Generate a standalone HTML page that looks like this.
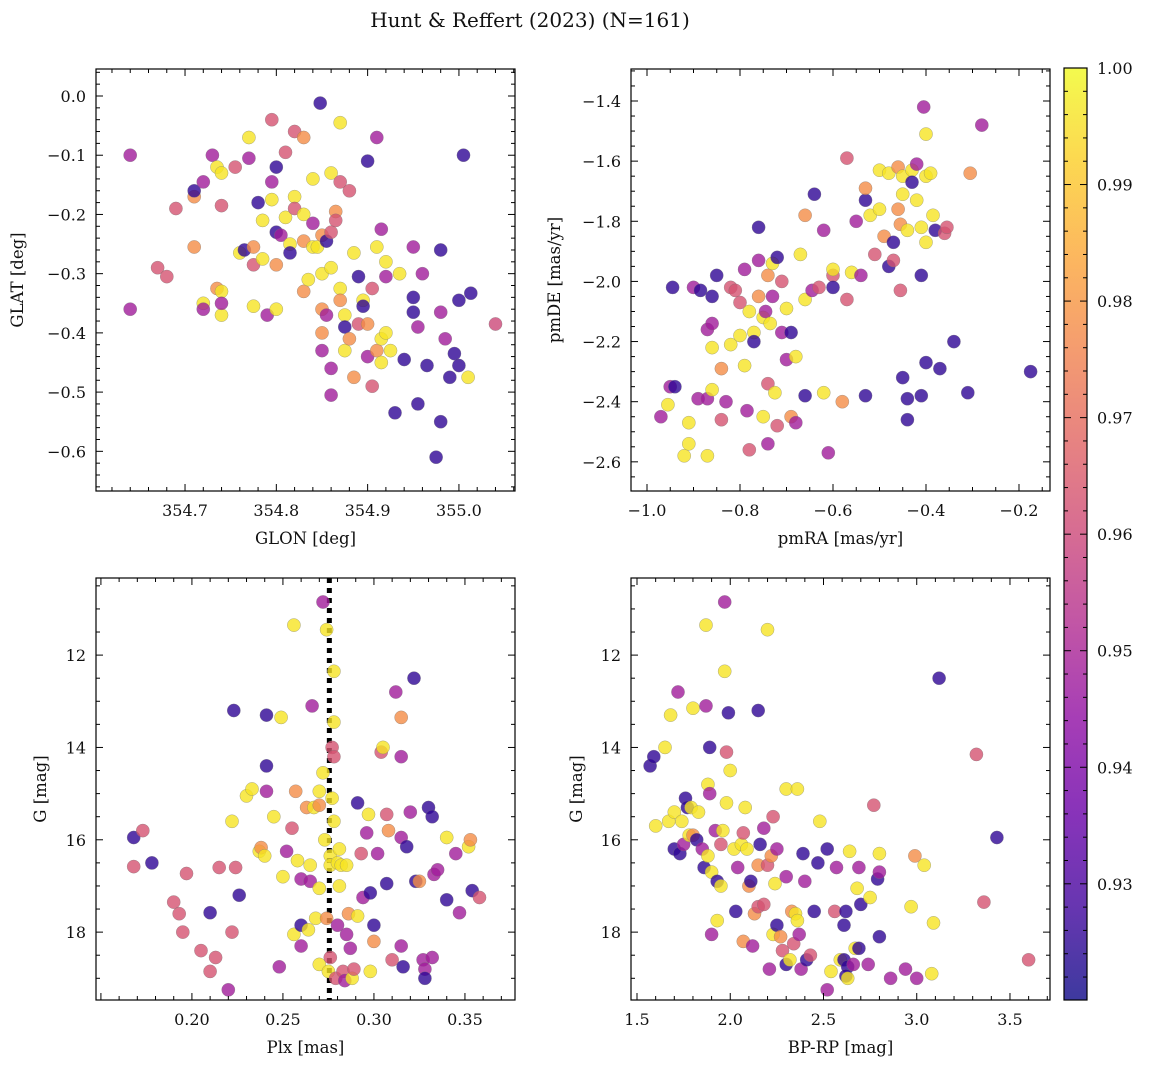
<!DOCTYPE html>
<html><head><meta charset="utf-8">
<style>
html,body{margin:0;padding:0;background:#fff;}
svg{display:block;font-family:"DejaVu Serif","Liberation Serif",serif;}
</style></head>
<body>
<svg id="fig" width="1149" height="1068" viewBox="0 0 1149 1068" xmlns="http://www.w3.org/2000/svg">
<text x="530" y="27" text-anchor="middle" font-size="20" fill="#111">Hunt &amp; Reffert (2023) (N=161)</text>
</svg>
<script>
// ---- Panel 1 data: GLON / GLAT / membership probability
const glon = [354.64,354.64,354.67,354.68,354.69,354.71,354.71,354.71,354.72,354.72,354.72,354.73,354.735,354.74,354.735,354.74,354.74,354.74,354.74,354.755,354.76,354.765,354.77,354.77,354.775,354.775,354.775,354.78,354.785,354.785,354.79,354.795,354.795,354.795,354.8,354.8,354.8,354.8,354.805,354.81,354.81,354.815,354.815,354.82,354.82,354.82,354.83,354.83,354.83,354.83,354.835,354.84,354.84,354.84,354.845,354.85,354.85,354.85,354.85,354.85,354.848,354.855,354.855,354.86,354.86,354.86,354.86,354.86,354.865,354.865,354.87,354.87,354.87,354.87,354.875,354.875,354.875,354.88,354.88,354.885,354.885,354.89,354.89,354.895,354.895,354.9,354.9,354.9,354.905,354.905,354.91,354.91,354.91,354.915,354.915,354.915,354.92,354.92,354.92,354.925,354.93,354.935,354.94,354.95,354.95,354.95,354.955,354.955,354.96,354.965,354.975,354.98,354.98,354.98,354.985,354.99,354.995,355.0,355.0,355.005,355.01,355.013,355.04];
const glat = [-0.10,-0.36,-0.29,-0.305,-0.19,-0.17,-0.255,-0.16,-0.145,-0.35,-0.36,-0.10,-0.12,-0.13,-0.325,-0.33,-0.37,-0.185,-0.35,-0.12,-0.265,-0.26,-0.07,-0.105,-0.255,-0.285,-0.355,-0.18,-0.21,-0.275,-0.37,-0.04,-0.145,-0.175,-0.12,-0.23,-0.285,-0.36,-0.235,-0.095,-0.205,-0.25,-0.265,-0.06,-0.17,-0.19,-0.07,-0.2,-0.245,-0.33,-0.31,-0.14,-0.215,-0.255,-0.255,-0.235,-0.3,-0.36,-0.4,-0.43,-0.012,-0.245,-0.37,-0.29,-0.46,-0.505,-0.23,-0.13,-0.195,-0.21,-0.325,-0.345,-0.145,-0.045,-0.37,-0.39,-0.43,-0.16,-0.41,-0.475,-0.265,-0.305,-0.385,-0.345,-0.355,-0.11,-0.385,-0.44,-0.325,-0.49,-0.07,-0.255,-0.43,-0.225,-0.41,-0.45,-0.4,-0.28,-0.305,-0.43,-0.535,-0.3,-0.445,-0.255,-0.34,-0.365,-0.39,-0.52,-0.3,-0.455,-0.61,-0.26,-0.365,-0.55,-0.41,-0.475,-0.435,-0.455,-0.345,-0.1,-0.475,-0.333,-0.385];
const prob1 = "MMKKKOOPMYMMYYOYYKMKYPYMOKYPYYMKMYPPOYMKYYPKYKOYOOYYMYYOYOOMPPMYMMKYOKYOKYYPYKOOYPKYPPOMKKMYOMYYYYMYPYPMPPMPMPPPMPMPPPPPYP";
// ---- Panel 2 data: pmRA / pmDE
const pmra = [-0.97,-0.955,-0.95,-0.945,-0.94,-0.92,-0.91,-0.91,-0.9,-0.89,-0.885,-0.87,-0.87,-0.87,-0.86,-0.86,-0.86,-0.86,-0.85,-0.84,-0.84,-0.83,-0.82,-0.82,-0.81,-0.8,-0.8,-0.79,-0.79,-0.785,-0.78,-0.78,-0.77,-0.77,-0.76,-0.76,-0.76,-0.75,-0.75,-0.745,-0.74,-0.74,-0.74,-0.735,-0.73,-0.73,-0.725,-0.72,-0.72,-0.71,-0.71,-0.7,-0.7,-0.69,-0.69,-0.68,-0.68,-0.67,-0.66,-0.66,-0.66,-0.645,-0.64,-0.63,-0.62,-0.62,-0.61,-0.6,-0.6,-0.6,-0.58,-0.57,-0.57,-0.56,-0.55,-0.54,-0.53,-0.53,-0.53,-0.52,-0.51,-0.5,-0.5,-0.49,-0.48,-0.48,-0.47,-0.47,-0.46,-0.46,-0.455,-0.455,-0.45,-0.45,-0.45,-0.44,-0.44,-0.44,-0.43,-0.43,-0.42,-0.42,-0.41,-0.41,-0.41,-0.405,-0.4,-0.4,-0.4,-0.4,-0.39,-0.385,-0.38,-0.37,-0.36,-0.355,-0.34,-0.31,-0.305,-0.28,-0.175];
const pmde = [-2.45,-2.41,-2.35,-2.02,-2.35,-2.58,-2.54,-2.47,-2.02,-2.39,-2.03,-2.16,-2.39,-2.58,-2.22,-2.14,-2.05,-2.36,-1.98,-2.29,-2.46,-2.40,-2.21,-2.02,-2.03,-2.07,-2.18,-1.96,-2.28,-2.43,-2.56,-2.1,-2.17,-2.2,-1.82,-1.93,-2.05,-2.45,-2.12,-2.1,-1.98,-2.34,-2.54,-2.14,-1.94,-2.05,-2.37,-2.48,-1.92,-2.0,-2.17,-2.26,-2.09,-2.45,-2.17,-2.47,-2.25,-1.91,-2.06,-1.78,-2.38,-2.03,-1.71,-2.02,-1.83,-2.37,-2.57,-1.98,-1.96,-2.02,-2.4,-2.06,-1.59,-1.97,-1.8,-1.98,-1.73,-1.69,-2.38,-1.78,-1.91,-1.63,-1.76,-1.85,-1.64,-1.95,-1.87,-1.93,-1.62,-1.76,-1.81,-2.03,-1.65,-1.71,-2.32,-1.83,-2.39,-2.46,-1.63,-1.67,-1.61,-1.73,-1.82,-1.98,-2.38,-1.42,-1.87,-1.65,-1.51,-2.27,-1.64,-1.78,-1.83,-2.29,-1.84,-1.82,-2.2,-2.37,-1.64,-1.48,-2.3];
const prob2 = "MYMPPYYYMMPMMYYMPYPOKMYKKKYMYMKYYPPMOYYMOKMYYMYKPKMMYOPMYYYOPMPKMYMKYPOKKYMMPOPYKYYOYPPKOOOKYYPYPPYPMYYPPMYYYPYYPPKKPPOMP";
// ---- Panel 3 data: parallax / G
const plx = [0.168,0.168,0.173,0.178,0.19,0.193,0.195,0.197,0.205,0.21,0.21,0.213,0.215,0.22,0.222,0.222,0.223,0.224,0.226,0.23,0.233,0.237,0.238,0.24,0.241,0.241,0.241,0.245,0.248,0.249,0.25,0.252,0.255,0.256,0.256,0.257,0.258,0.26,0.26,0.26,0.263,0.264,0.265,0.265,0.266,0.267,0.268,0.27,0.27,0.27,0.27,0.272,0.272,0.273,0.274,0.274,0.275,0.276,0.276,0.276,0.277,0.277,0.278,0.278,0.278,0.278,0.279,0.28,0.28,0.281,0.281,0.282,0.283,0.284,0.285,0.285,0.286,0.287,0.288,0.289,0.291,0.291,0.293,0.294,0.296,0.297,0.298,0.298,0.3,0.3,0.302,0.304,0.305,0.307,0.307,0.308,0.31,0.312,0.315,0.315,0.315,0.315,0.316,0.318,0.32,0.322,0.323,0.325,0.327,0.328,0.328,0.33,0.332,0.332,0.333,0.335,0.34,0.34,0.345,0.347,0.352,0.353,0.354,0.358];
const gmag3 = [15.95,16.58,15.8,16.5,17.35,17.6,18.0,16.73,18.4,18.85,17.58,18.55,16.6,19.25,18.0,15.6,13.2,16.6,17.2,15.05,14.9,16.25,16.17,16.35,14.95,14.4,13.3,15.5,18.75,13.35,16.8,16.25,15.75,11.35,18.05,14.95,16.45,17.85,18.3,16.85,15.3,17.95,16.55,16.9,13.1,15.3,17.7,18.7,17.05,15.25,14.95,10.85,14.55,16.0,17.7,11.45,18.85,18.55,16.35,16.55,15.1,14.0,13.45,14.2,12.35,15.6,19.0,16.5,17.85,17.0,16.2,16.55,18.85,19.05,16.55,18.05,17.6,18.35,19.0,18.8,17.65,15.2,16.3,17.25,15.85,15.45,17.15,18.85,18.2,17.85,16.3,14.1,14.0,16.95,15.45,15.8,18.6,12.8,13.35,14.2,15.95,18.3,18.75,16.15,15.4,12.5,16.9,16.9,18.6,18.8,19.0,15.3,15.5,18.55,16.75,16.65,17.3,15.95,16.3,17.58,16.15,16.0,17.1,17.25];
const prob3 = "PKKPKKKKKKPKKMKYPKPYYYOYMPPYMYYMKYYOYPMMOYYMMYYYYOYMYYOYYKYYYKYKYYKYMYYYKMYMOMYKYPKMMYPYOPMKYPKOKMOMMMPPMPPOMMPPPMMMPYMMYOPK";
// ---- Panel 4 data: BP-RP / G
const bprp = [1.57,1.59,1.6,1.65,1.67,1.68,1.7,1.7,1.72,1.73,1.74,1.75,1.76,1.77,1.78,1.79,1.8,1.8,1.82,1.83,1.85,1.86,1.87,1.87,1.88,1.88,1.89,1.89,1.9,1.9,1.92,1.93,1.93,1.95,1.95,1.96,1.97,1.97,1.98,1.98,1.99,2.0,2.02,2.03,2.04,2.06,2.07,2.07,2.08,2.09,2.1,2.11,2.12,2.13,2.15,2.15,2.15,2.16,2.18,2.18,2.2,2.2,2.21,2.22,2.23,2.23,2.24,2.25,2.25,2.27,2.28,2.3,2.3,2.3,2.32,2.33,2.34,2.35,2.36,2.36,2.37,2.38,2.39,2.4,2.41,2.43,2.45,2.47,2.48,2.52,2.52,2.54,2.56,2.57,2.59,2.61,2.61,2.63,2.62,2.62,2.63,2.64,2.66,2.67,2.68,2.69,2.69,2.7,2.74,2.75,2.77,2.79,2.8,2.8,2.8,2.86,2.94,2.97,2.99,3.0,3.04,3.08,3.09,3.12,3.32,3.36,3.43,3.6];
const gmag4 = [14.4,14.2,15.7,14.0,15.6,13.3,16.2,15.4,12.8,16.3,15.6,16.1,15.1,15.3,15.9,15.3,13.15,15.9,16.0,15.4,16.2,16.6,13.1,11.35,16.35,14.8,14.0,15.0,18.05,16.7,15.8,17.75,16.9,17.0,16.1,15.8,12.35,10.85,15.2,14.1,13.25,14.5,16.2,17.55,16.6,16.1,15.85,18.2,15.3,16.2,17.0,16.9,18.3,17.6,13.2,16.55,17.45,16.1,15.75,17.4,11.45,16.55,18.8,16.35,15.5,18.05,16.95,16.2,17.85,18.1,18.4,18.7,14.9,16.8,18.6,17.55,18.25,17.6,14.9,17.75,18.05,18.8,16.3,16.9,18.6,18.5,17.55,16.5,15.6,16.2,19.25,18.85,17.55,16.6,18.6,18.6,17.85,18.75,17.55,18.95,19.0,16.25,18.7,18.35,17.05,16.6,18.35,17.4,18.7,17.25,15.25,16.85,16.7,16.3,18.1,19.0,18.8,17.45,16.35,19.0,16.55,18.9,17.8,12.5,14.15,17.35,15.95,18.6];
const prob4 = "PPYYYYPYMPYMPPYYYOPYMPMYYYPMMYMYPYKYYMYKPYYPMYKOYYOPMOPOKPMKYKMOKYYMPOKPYMYOKYYYMMPMPKPPYPMYKMYPPPPPYYMYYMPPMYKPMYPMMYOMYYYPKKPK";
const probLevel = {P:0.925, M:0.948, K:0.963, O:0.978, Y:0.996};
const cbTicks = [0.93,0.94,0.95,0.96,0.97,0.98,0.99,1.00];

const NS = "http://www.w3.org/2000/svg";
const fig = document.getElementById('fig');
function mk(tag, attrs, parent){ const e=document.createElementNS(NS,tag); for(const k in attrs) e.setAttribute(k,attrs[k]); (parent||fig).appendChild(e); return e; }
const plasma = [[13,8,135],[65,4,157],[106,0,168],[143,13,164],[177,42,144],[204,71,120],[225,100,98],[242,132,75],[252,166,54],[252,206,37],[240,249,33]];
function cmap(v){ let t=(v-0.92)/0.08; t=Math.max(0,Math.min(1,t)); const s=t*10, i=Math.min(9,Math.floor(s)), f=s-i; const a=plasma[i], b=plasma[i+1];
  return 'rgb('+[0,1,2].map(k=>Math.round(a[k]+(b[k]-a[k])*f)).join(',')+')'; }
function fmt(v,d){ const s=Math.abs(v).toFixed(d); return (v< -1e-9?'\u2212':'')+s; }

function panel(cfg){
  const {name,x0,y0,x1,y1,xmin,xmax,ymin,ymax,invY} = cfg;
  const sx = v => x0+(v-xmin)/(xmax-xmin)*(x1-x0);
  const sy = invY ? (v => y0+(v-ymin)/(ymax-ymin)*(y1-y0)) : (v => y1-(v-ymin)/(ymax-ymin)*(y1-y0));
  const g = mk('g',{});
  
  
  if(cfg.vline!==undefined){
    const l=mk('line',{x1:sx(cfg.vline),x2:sx(cfg.vline),y1:y0,y2:y1,stroke:'#000','stroke-width':5,'stroke-dasharray':'5,5'},g);
    
    
  }
  const pts = mk('g',{},g);
  
  
  for(let i=0;i<cfg.xs.length;i++){
    const c = probLevel[cfg.ps[i]] || 0.96;
    const p = mk('circle',{cx:sx(cfg.xs[i]).toFixed(1),cy:sy(cfg.ys[i]).toFixed(1),r:6.6,fill:cmap(c),'fill-opacity':0.8,stroke:'#777','stroke-opacity':0.6,'stroke-width':0.5},pts);
    
    
  }
  const fr = mk('rect',{x:x0,y:y0,width:x1-x0,height:y1-y0,fill:'none',stroke:'#000','stroke-width':1.2},g);
  
  
  const eps=1e-9;
  for(let v=Math.ceil(xmin/cfg.xminor-eps)*cfg.xminor; v<=xmax+eps; v+=cfg.xminor){
    const X=sx(v); const major = Math.abs(v/cfg.xmajor-Math.round(v/cfg.xmajor))<1e-6; const L=major?7:4;
    mk('line',{x1:X,x2:X,y1:y1,y2:y1-L,stroke:'#000','stroke-width':1},g);
    mk('line',{x1:X,x2:X,y1:y0,y2:y0+L,stroke:'#000','stroke-width':1},g);
    if(major && X>x0+5.5 && X<x1-5.5){ const t=mk('text',{x:X,y:y1+25,'text-anchor':'middle','font-size':16,fill:'#111'},g); t.textContent=fmt(Math.round(v/cfg.xmajor)*cfg.xmajor,cfg.xd);
        }
  }
  for(let v=Math.ceil(ymin/cfg.yminor-eps)*cfg.yminor; v<=ymax+eps; v+=cfg.yminor){
    const Y=sy(v); const major = Math.abs(v/cfg.ymajor-Math.round(v/cfg.ymajor))<1e-6; const L=major?7:4;
    mk('line',{x1:x0,x2:x0+L,y1:Y,y2:Y,stroke:'#000','stroke-width':1},g);
    mk('line',{x1:x1,x2:x1-L,y1:Y,y2:Y,stroke:'#000','stroke-width':1},g);
    if(major){ const t=mk('text',{x:x0-10,y:Y+6,'text-anchor':'end','font-size':16,fill:'#111'},g); t.textContent=fmt(Math.round(v/cfg.ymajor)*cfg.ymajor,cfg.yd);
        }
  }
  const xl=mk('text',{x:(x0+x1)/2,y:y1+53,'text-anchor':'middle','font-size':16.5,fill:'#111'},g); xl.textContent=cfg.xlabel;
   
  const yl=mk('text',{x:cfg.ylx,y:(y0+y1)/2,'text-anchor':'middle','font-size':16.5,fill:'#111',transform:'rotate(-90 '+cfg.ylx+' '+((y0+y1)/2)+')'},g); yl.textContent=cfg.ylabel;
   
}

panel({name:'position',x0:96,y0:69,x1:515,y1:491,xmin:354.6025,xmax:355.0614,ymin:-0.667,ymax:0.0456,xmajor:0.1,xminor:0.02,ymajor:0.1,yminor:0.02,xd:1,yd:1,
  xs:glon,ys:glat,ps:prob1,xlabel:'GLON [deg]',ylabel:'GLAT [deg]',ylx:23});
panel({name:'proper-motion',x0:631,y0:69,x1:1050,y1:491,xmin:-1.0344,xmax:-0.1333,ymin:-2.697,ymax:-1.2936,xmajor:0.2,xminor:0.05,ymajor:0.2,yminor:0.05,xd:1,yd:1,
  xs:pmra,ys:pmde,ps:prob2,xlabel:'pmRA [mas/yr]',ylabel:'pmDE [mas/yr]',ylx:560});
panel({name:'parallax-magnitude',x0:96,y0:578,x1:515,y1:1000,xmin:0.1473,xmax:0.3775,ymin:10.33,ymax:19.47,invY:true,xmajor:0.05,xminor:0.01,ymajor:2,yminor:0.5,xd:2,yd:0,
  xs:plx,ys:gmag3,ps:prob3,xlabel:'Plx [mas]',ylabel:'G [mag]',ylx:46,vline:0.2755});
panel({name:'color-magnitude',x0:631,y0:578,x1:1050,y1:1000,xmin:1.4678,xmax:3.7146,ymin:10.33,ymax:19.47,invY:true,xmajor:0.5,xminor:0.1,ymajor:2,yminor:0.5,xd:1,yd:0,
  xs:bprp,ys:gmag4,ps:prob4,xlabel:'BP-RP [mag]',ylabel:'G [mag]',ylx:582});

// colorbar
(function(){
  const x0=1064,x1=1087,y0=68,y1=1000, vmin=0.92003, vmax=1.0;
  const sy=v=>y1-(v-vmin)/(vmax-vmin)*(y1-y0);
  const g=mk('g',{});  
  const defs=mk('defs',{},g); const lg=mk('linearGradient',{id:'pl',x1:0,y1:1,x2:0,y2:0},defs);
  plasma.forEach((c,i)=>mk('stop',{offset:(i/10),'stop-color':'rgb('+c.join(',')+')','stop-opacity':0.8},lg));
  mk('rect',{x:x0,y:y0,width:x1-x0,height:y1-y0,fill:'#fff'},g);
  mk('rect',{x:x0,y:y0,width:x1-x0,height:y1-y0,fill:'url(#pl)',stroke:'#000','stroke-width':1.2},g);
  for(let v=0.922; v<=1.0001; v+=0.002){ const Y=sy(v); const major=cbTicks.some(t=>Math.abs(t-v)<1e-6);
    mk('line',{x1:x1,x2:x1-(major?7:4),y1:Y,y2:Y,stroke:'#000','stroke-width':1},g);
    mk('line',{x1:x0,x2:x0+(major?7:4),y1:Y,y2:Y,stroke:'#000','stroke-width':1},g); }
  cbTicks.forEach(t=>{ const e=mk('text',{x:x1+10,y:sy(t)+6,'font-size':16,fill:'#111'},g); e.textContent=t.toFixed(2);
      });
})();
</script>
</body></html>
